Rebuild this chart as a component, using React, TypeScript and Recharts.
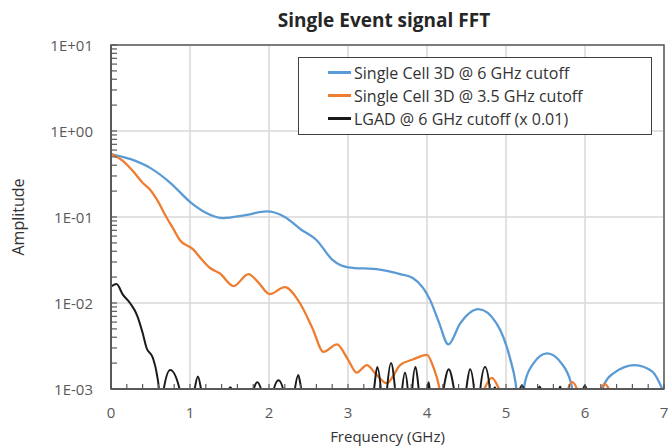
import React from "react";
import {
  LineChart,
  Line,
  XAxis,
  YAxis,
  CartesianGrid,
  Legend,
  ReferenceArea,
  Label,
} from "recharts";

// (frequency in GHz, amplitude)
const blueFreq = [0, 0.25, 0.5, 0.75, 1.0, 1.2, 1.42, 1.7, 1.97, 2.2, 2.4, 2.6, 2.8, 3.0, 3.4, 3.66, 3.82, 3.95, 4.04, 4.15, 4.27, 4.42, 4.65, 4.88, 5.05, 5.12, 5.18, 5.24, 5.35, 5.52, 5.7, 5.82, 5.9, 6.03, 6.15, 6.22, 6.35, 6.63, 6.85, 7.0];
const blueAmp = [0.54, 0.47, 0.37, 0.25, 0.15, 0.112, 0.097, 0.105, 0.116, 0.1, 0.072, 0.054, 0.032, 0.026, 0.0245, 0.0217, 0.0195, 0.015, 0.0108, 0.006, 0.0033, 0.0058, 0.0085, 0.0058, 0.0023, 0.0012, 0.0004, 0.0012, 0.002, 0.0026, 0.002, 0.0012, 0.0005, 0.0003, 0.0005, 0.001, 0.0015, 0.0019, 0.0016, 0.0009];

const orangeFreq = [0, 0.15, 0.28, 0.4, 0.49, 0.58, 0.7, 0.8, 0.87, 1.04, 1.15, 1.25, 1.38, 1.55, 1.74, 1.85, 2.01, 2.2, 2.39, 2.55, 2.69, 2.86, 3.0, 3.11, 3.24, 3.35, 3.49, 3.66, 3.82, 4.0, 4.08, 4.15, 4.22, 4.45, 4.7, 4.82, 4.94, 5.3, 5.76, 5.84, 5.92, 6.05, 6.18, 6.25, 6.33, 6.6, 7.0];
const orangeAmp = [0.54, 0.45, 0.34, 0.25, 0.21, 0.16, 0.1, 0.07, 0.054, 0.042, 0.032, 0.0257, 0.022, 0.0157, 0.0217, 0.018, 0.0127, 0.0153, 0.01, 0.0051, 0.0027, 0.0033, 0.0022, 0.00155, 0.0019, 0.0015, 0.00117, 0.0019, 0.0022, 0.0025, 0.0018, 0.0011, 0.0004, 0.0003, 0.0009, 0.00135, 0.0009, 0.0003, 0.0009, 0.0012, 0.0009, 0.0003, 0.0009, 0.00115, 0.0009, 0.0003, 0.0003];

const blackFreq = [0, 0.07, 0.15, 0.24, 0.33, 0.4, 0.45, 0.53, 0.58, 0.61, 0.63,
  0.66, 0.75, 0.88, 0.97,
  1.05, 1.1, 1.15, 1.3,
  1.47, 1.51, 1.55, 1.67,
  1.79, 1.85, 1.91, 1.98,
  2.05, 2.12, 2.19, 2.26,
  2.32, 2.37, 2.42, 2.9,
  3.32, 3.37, 3.42, 3.455,
  3.49, 3.545, 3.6, 3.64,
  3.68, 3.72, 3.76, 3.785,
  3.81, 3.855, 3.9, 3.95,
  4.0, 4.02, 4.04, 4.12,
  4.2, 4.275, 4.35, 4.42,
  4.49, 4.545, 4.6, 4.635,
  4.67, 4.735, 4.8, 4.82,
  4.84, 4.86, 4.88, 5.0,
  5.16, 5.2, 5.24, 5.31,
  5.39, 5.425, 5.46, 5.56,
  5.66, 5.685, 5.71, 5.83,
  5.96, 6.0, 6.03, 6.5, 7.0];
const blackAmp = [0.0155, 0.0166, 0.0125, 0.01, 0.0072, 0.0045, 0.003, 0.0023, 0.0015, 0.0009, 0.0003,
  0.0009, 0.00166, 0.0009, 0.0003,
  0.0009, 0.0014, 0.0009, 0.0003,
  0.0009, 0.00105, 0.0009, 0.0003,
  0.0009, 0.0012, 0.0009, 0.0003,
  0.0009, 0.00126, 0.0009, 0.0003,
  0.0009, 0.00145, 0.0009, 0.0003,
  0.0009, 0.0018, 0.0009, 0.0003,
  0.0009, 0.002, 0.0009, 0.0003,
  0.0009, 0.00155, 0.0009, 0.0003,
  0.0009, 0.0018, 0.0009, 0.0003,
  0.0009, 0.0012, 0.0009, 0.0003,
  0.0009, 0.0017, 0.0009, 0.0003,
  0.0009, 0.0017, 0.0009, 0.0003,
  0.0009, 0.0018, 0.0009, 0.0003,
  0.0009, 0.00105, 0.0009, 0.0003,
  0.0009, 0.0011, 0.0009, 0.0003,
  0.0009, 0.00107, 0.0009, 0.0003,
  0.0009, 0.00107, 0.0009, 0.0003,
  0.0009, 0.0011, 0.0009, 0.0003, 0.0003];

const seriesNames = [
  "Single Cell 3D @ 6 GHz cutoff",
  "Single Cell 3D @ 3.5 GHz cutoff",
  "LGAD @ 6 GHz cutoff (x 0.01)",
];
const seriesColors = ["#5B9BD5", "#ED7D31", "#1a1a1a"];

const decades = [0.001, 0.01, 0.1, 1, 10];
const freqMajor = [0, 1, 2, 3, 4, 5, 6, 7];

const toPoints = (f: number[], a: number[]) => f.map((x, i) => ({ f: x, a: a[i] }));
const blueData = toPoints(blueFreq, blueAmp);
const orangeData = toPoints(orangeFreq, orangeAmp);
const blackData = toPoints(blackFreq, blackAmp);

// minor ticks: 1..9 inside each decade, every 0.2 GHz on x
const yTicks: number[] = [];
decades.slice(0, -1).forEach(d => {
  for (let k = 1; k < 10; k++) yTicks.push(+(d * k).toPrecision(3));
});
yTicks.push(10);
const xTicks: number[] = [];
for (let i = 0; i <= 35; i++) xTicks.push(+(i * 0.2).toFixed(1));

const axisGray = "#595959";

const fmtExp = (v: number) => {
  const e = Math.round(Math.log10(v));
  return `1E${e < 0 ? "-" : "+"}${String(Math.abs(e)).padStart(2, "0")}`;
};

const YTick = (props: any) => {
  const { x, y, payload } = props;
  const v = payload.value;
  const major = decades.some(d => Math.abs(d - v) / d < 1e-6);
  return (
    <g>
      <line x1={x} x2={x + 6} y1={y} y2={y} stroke={axisGray} strokeWidth={1.2} />
      {major && (
        <text x={x - 18} y={y} textAnchor="end" dominantBaseline="central" fontSize={15} fill={axisGray}>
          {fmtExp(v)}
        </text>
      )}
    </g>
  );
};

const XTick = (props: any) => {
  const { x, y, payload } = props;
  const v = payload.value;
  const major = Math.abs(v - Math.round(v)) < 1e-6;
  return (
    <g>
      <line x1={x} x2={x} y1={y} y2={y - 5} stroke={axisGray} strokeWidth={1.2} />
      {major && (
        <text x={x} y={y + 23} textAnchor="middle" dominantBaseline="central" fontSize={15} fill={axisGray}>
          {Math.round(v)}
        </text>
      )}
    </g>
  );
};

const LegendBox = (props: any) => {
  const items = [...(props.payload || [])].sort(
    (a: any, b: any) => seriesNames.indexOf(a.value) - seriesNames.indexOf(b.value)
  );
  return (
    <div
      style={{
        border: "1.5px solid #404040",
        background: "#fff",
        width: 354,
        height: 78,
        boxSizing: "border-box",
        paddingTop: 3,
      }}
    >
      {items.map((p: any) => (
        <div key={p.value} style={{ display: "flex", alignItems: "center", height: 23 }}>
          <div style={{ width: 23, height: 2.5, background: p.color, marginLeft: 29 }} />
          <span style={{ marginLeft: 3, fontSize: 16, color: "#333", whiteSpace: "nowrap" }}>{p.value}</span>
        </div>
      ))}
    </div>
  );
};

export default function App() {
  return (
    <div
      style={{
        position: "absolute",
        left: 0,
        top: 0,
        width: 669,
        height: 447,
        background: "#fff",
        fontFamily: "'Open Sans', sans-serif",
      }}
    >
      <div
        style={{
          position: "absolute",
          left: 0,
          width: 768,
          top: 9,
          textAlign: "center",
          fontSize: 19,
          fontWeight: 700,
          lineHeight: "22px",
          color: "#262626",
        }}
      >
        Single Event signal FFT
      </div>
      <LineChart width={669} height={447} margin={{ top: 45, right: 5, bottom: 0, left: 0 }}>
        <CartesianGrid
          stroke="#d9d9d9"
          strokeWidth={1.5}
          horizontalValues={decades}
          verticalValues={freqMajor}
        />
        <XAxis
          type="number"
          dataKey="f"
          domain={[0, 7]}
          ticks={xTicks}
          interval={0}
          tick={<XTick />}
          tickSize={0}
          tickMargin={0}
          tickLine={false}
          height={58}
          axisLine={{ stroke: axisGray, strokeWidth: 2 }}
          allowDataOverflow
        >
          <Label value="Frequency (GHz)" position="insideBottom" offset={5} fontSize={15} fill="#333" />
        </XAxis>
        <YAxis
          scale="log"
          domain={[0.001, 10]}
          ticks={yTicks}
          interval={0}
          tick={<YTick />}
          tickSize={0}
          tickMargin={0}
          tickLine={false}
          width={111}
          axisLine={{ stroke: axisGray, strokeWidth: 2 }}
          allowDataOverflow
        >
          <Label
            value="Amplitude"
            angle={-90}
            position="insideLeft"
            offset={18}
            fontSize={16}
            fill="#333"
            style={{ textAnchor: "middle" }}
          />
        </YAxis>
        <ReferenceArea x1={0} x2={7} y1={0.001} y2={10} fill="none" stroke={axisGray} strokeWidth={1.5} />
        <Line data={blueData} dataKey="a" name={seriesNames[0]} type="monotone" stroke={seriesColors[0]} strokeWidth={2.3} dot={false} activeDot={false} isAnimationActive={false} />
        <Line data={orangeData} dataKey="a" name={seriesNames[1]} type="monotone" stroke={seriesColors[1]} strokeWidth={2.3} dot={false} activeDot={false} isAnimationActive={false} />
        <Line data={blackData} dataKey="a" name={seriesNames[2]} type="monotone" stroke={seriesColors[2]} strokeWidth={2} dot={false} activeDot={false} isAnimationActive={false} />
        <Legend
          layout="horizontal"
          verticalAlign="middle"
          align="center"
          content={<LegendBox />}
          wrapperStyle={{ left: 298, top: 57, width: 356, height: 80 }}
        />
      </LineChart>
    </div>
  );
}
